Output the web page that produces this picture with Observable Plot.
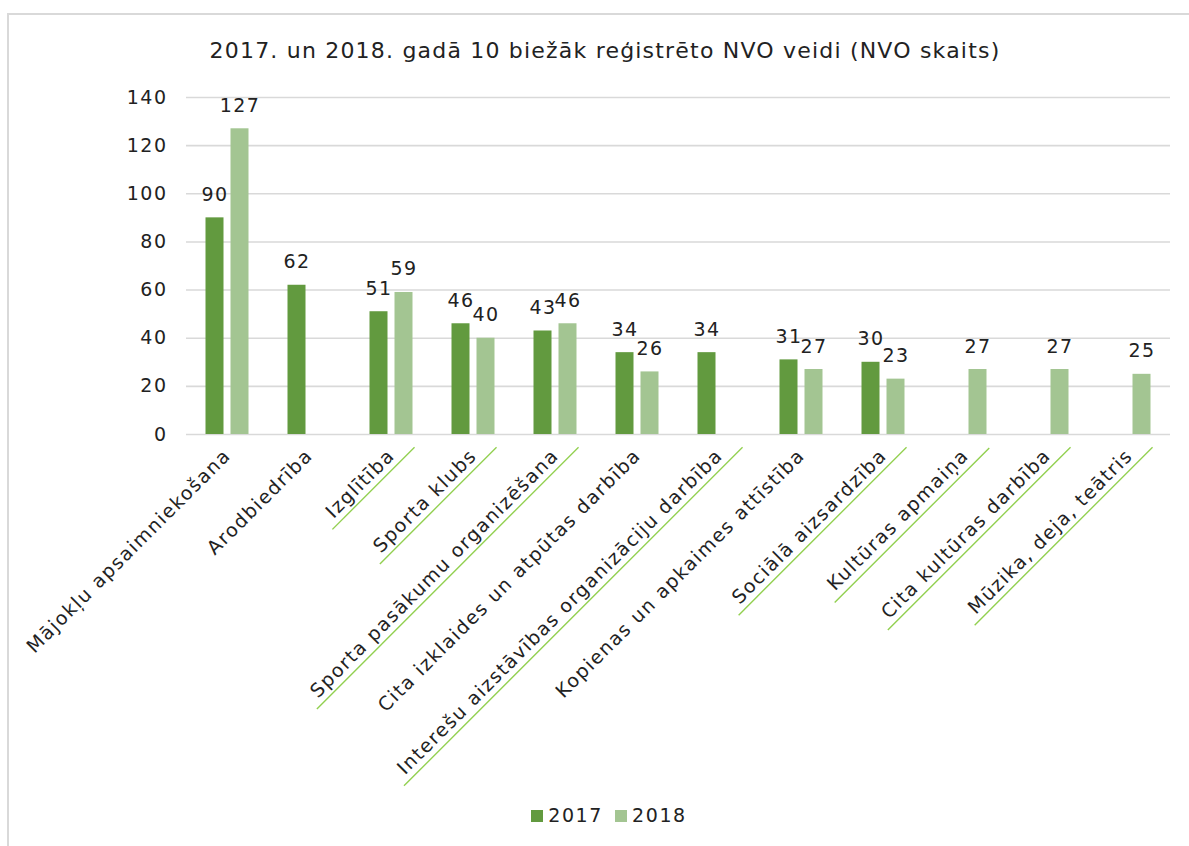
<!DOCTYPE html>
<html>
<head>
<meta charset="utf-8">
<script src="https://cdn.jsdelivr.net/npm/d3@7"></script>
<script src="https://cdn.jsdelivr.net/npm/@observablehq/plot@0.6"></script>
<style>
  html, body { margin: 0; padding: 0; background: #fff; overflow: hidden; }
  body { width: 1189px; height: 846px; position: relative; font-family: "DejaVu Sans", Verdana, sans-serif; color: #222; }
  #frame { position: absolute; left: 7px; top: 13px; width: 1400px; height: 1000px; border-left: 2px solid #d9d9d9; border-top: 2px solid #d9d9d9; }
  #title { position: absolute; left: 0; width: 1210px; top: 38px; text-align: center; font-size: 22px; letter-spacing: 1.2px; color: #222; }
  #chart { position: absolute; left: 0; top: 0; }
  #chart svg text { letter-spacing: 1.5px; }
  #legend { position: absolute; left: 0; width: 1218px; top: 804px; text-align: center; font-size: 19px; letter-spacing: 1.6px; color: #222; }
  #legend span.item { display: inline-block; margin: 0 6px; }
  #legend span.sw { display: inline-block; width: 12px; height: 12px; margin-right: 5px; vertical-align: 0px; }
</style>
</head>
<body>
<div id="frame"></div>
<div id="chart"></div>
<div id="title">2017. un 2018. gadā 10 biežāk reģistrēto NVO veidi (NVO skaits)</div>
<div id="legend"></div>
<script>
const categories = [
  "Mājokļu apsaimniekošana",
  "Arodbiedrība",
  "Izglītība",
  "Sporta klubs",
  "Sporta pasākumu organizēšana",
  "Cita izklaides un atpūtas darbība",
  "Interešu aizstāvības organizāciju darbība",
  "Kopienas un apkaimes attīstība",
  "Sociālā aizsardzība",
  "Kultūras apmaiņa",
  "Cita kultūras darbība",
  "Mūzika, deja, teātris"
];
const values2017 = [90, 62, 51, 46, 43, 34, 34, 31, 30, null, null, null];
const values2018 = [127, null, 59, 40, 46, 26, null, 27, 23, 27, 27, 25];
const years = ["2017", "2018"];
const yTicks = [0, 20, 40, 60, 80, 100, 120, 140];
const underlined = new Set([
  "Izglītība", "Sporta klubs", "Sporta pasākumu organizēšana",
  "Interešu aizstāvības organizāciju darbība", "Sociālā aizsardzība",
  "Kultūras apmaiņa", "Cita kultūras darbība", "Mūzika, deja, teātris"
]);
const colors = ["#629a3f", "#a3c592"];

const rows = [];
categories.forEach((c, i) => {
  if (values2017[i] != null) rows.push({category: c, year: "2017", value: values2017[i]});
  if (values2018[i] != null) rows.push({category: c, year: "2018", value: values2018[i]});
});

const plot = Plot.plot({
  width: 1189,
  height: 800,
  marginLeft: 183,
  marginRight: 16,
  marginTop: 97,
  marginBottom: 366,
  style: {fontFamily: "DejaVu Sans, Verdana, sans-serif", fontSize: "19px", color: "#222", background: "transparent"},
  fx: {domain: categories, padding: 0, label: null, tickRotate: -45, tickSize: 0, tickPadding: 18},
  x: {domain: years, paddingInner: 0.25, paddingOuter: 0.75, axis: null},
  y: {domain: [0, 140], ticks: yTicks, label: null, tickSize: 0, tickPadding: 20, grid: false},
  color: {domain: years, range: colors},
  marks: [
    Plot.gridY(yTicks, {stroke: "#d9d9d9", strokeOpacity: 1, strokeWidth: 1.6}),
    Plot.barY(rows, {fx: "category", x: "year", y: "value", fill: "year", insetLeft: 0.5, insetRight: 0.5}),
    Plot.text(rows, {fx: "category", x: "year", y: "value", text: d => String(d.value), lineAnchor: "bottom", dy: -17, fill: "#222", fontSize: 19}),
    Plot.axisY({ticks: yTicks, tickSize: 0, tickPadding: 19, fontSize: 19, fill: "#222"})
  ]
});
document.getElementById("chart").appendChild(plot);

// green underline under selected category labels (as in the reference)
d3.select(plot).selectAll("g[aria-label='fx-axis tick label'] text").each(function() {
  const t = this.textContent;
  if (!underlined.has(t)) return;
  const bb = this.getBBox();
  const ly = bb.y + bb.height + 2.5;
  const line = document.createElementNS("http://www.w3.org/2000/svg", "line");
  line.setAttribute("x1", bb.x - 8);
  line.setAttribute("x2", bb.x + bb.width + 20);
  line.setAttribute("y1", ly);
  line.setAttribute("y2", ly);
  line.setAttribute("stroke", "#92d050");
  line.setAttribute("stroke-width", "1.4");
  const tr = this.getAttribute("transform");
  if (tr) line.setAttribute("transform", tr);
  this.parentNode.insertBefore(line, this);
});

const legend = document.getElementById("legend");
years.forEach((y, i) => {
  const item = document.createElement("span");
  item.className = "item";
  const sw = document.createElement("span");
  sw.className = "sw";
  sw.style.background = colors[i];
  item.appendChild(sw);
  item.appendChild(document.createTextNode(y));
  legend.appendChild(item);
});
</script>
</body>
</html>
